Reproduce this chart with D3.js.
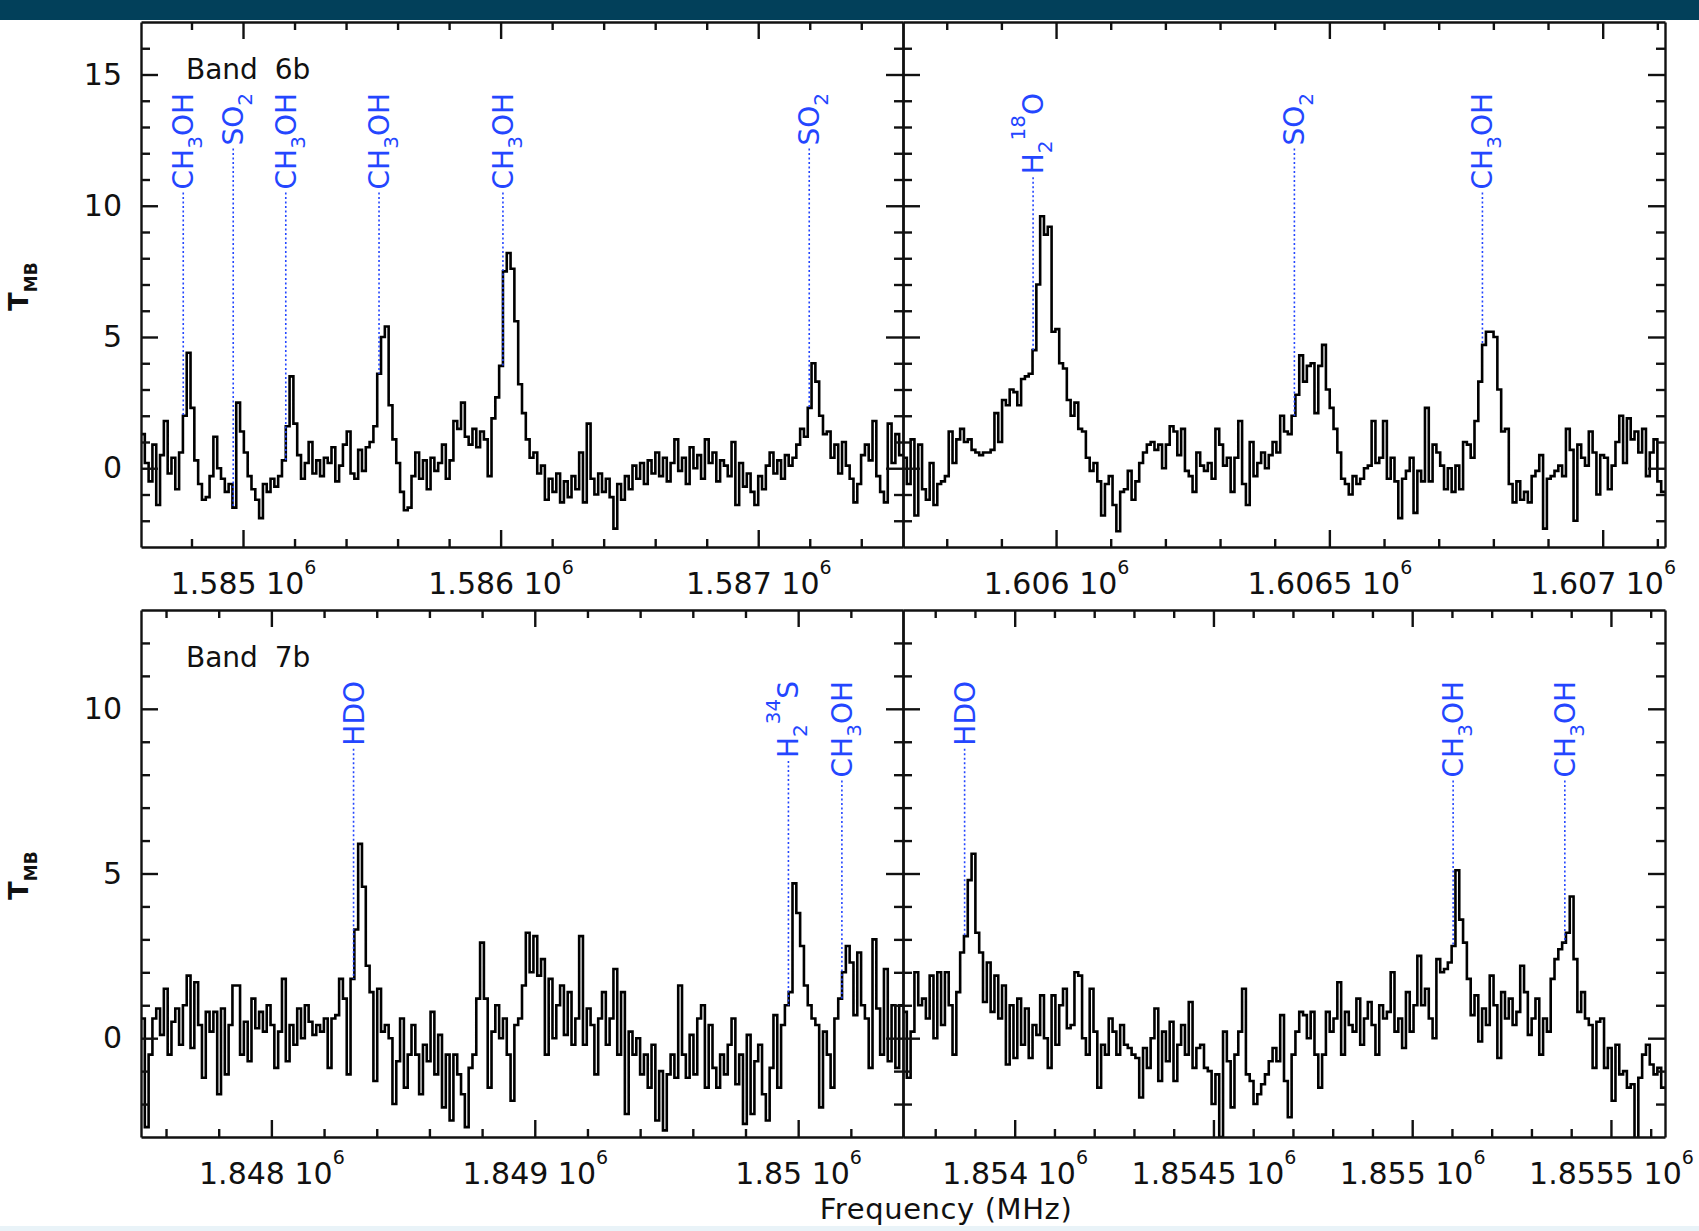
<!DOCTYPE html>
<html>
<head>
<meta charset="utf-8">
<script src="https://d3js.org/d3.v7.min.js"></script>
<style>
body { margin: 0; background: #fff; }
svg text { font-family: "DejaVu Sans", sans-serif; fill: #111; }
.axis path, .axis line { stroke: #111; stroke-width: 2.4; }
.spec { fill: none; stroke: #000; stroke-width: 2.6; stroke-linejoin: miter; }
.lineid { fill: #2446ff; font-size: 28px; }
.idline { stroke: #2446ff; stroke-width: 1.6; stroke-dasharray: 2 2.5; }
</style>
</head>
<body>
<svg id="chart" width="1699" height="1231"></svg>
<script>
// spectra, 200 channels per window (T_MB in K, freq in MHz)
var b6LowRange = [1584604, 1587562];
var b6LowT = [1.3, 0.2, -0.5, 0.9, -1.4, 0.5, 1.8, -0.2, 0.4, -0.8, 0.6,
  2.0, 4.4, 2.3, 0.3, -0.6, -1.2, -1.1, -0.3, 1.2, 0.0,
  -0.4, -0.9, -0.6, -1.5, 2.5, 1.4, 0.6, -0.3, -0.8, -1.2,
  -1.9, -0.6, -0.9, -0.4, -0.7, -0.3, 0.3, 1.6, 3.5, 1.7,
  0.5, -0.4, 0.2, 1.0, -0.2, 0.3, -0.3, 0.4, 0.2, 0.8,
  -0.5, 0.1, 0.9, 1.4, -0.2, -0.4, 0.7, -0.1, 0.8, 1.0,
  1.6, 3.6, 5.0, 5.4, 2.4, 1.1, 0.2, -0.9, -1.6, -1.5,
  -0.3, 0.6, -0.4, 0.3, -0.8, 0.4, -0.1, 0.2, 0.9, -0.4,
  0.3, 1.8, 1.5, 2.5, 1.2, 0.9, 1.5, 0.8, 1.4, 1.1,
  -0.3, 1.9, 2.7, 3.9, 7.5, 8.2, 7.6, 5.6, 3.2, 2.1,
  1.1, 0.4, 0.6, -0.2, 0.1, -1.2, -0.4, -0.9, -0.2, -1.3,
  -0.5, -1.1, -0.3, -0.8, 0.6, -1.3, 1.7, -0.4, -1.0, -0.2,
  -0.9, -0.4, -1.1, -2.3, -0.6, -1.2, -0.3, -0.8, 0.1, -0.4,
  0.2, -0.6, 0.3, -0.2, 0.6, -0.3, 0.4, -0.5, 0.2, 1.1,
  -0.1, 0.4, -0.6, 0.8, 0.0, 0.5, -0.4, 1.1, 0.2, 0.6,
  -0.5, 0.3, 0.1, -0.3, 1.0, -1.4, 0.2, -0.7, -0.2, -0.9,
  -1.4, -0.3, -0.8, 0.1, 0.6, -0.2, 0.3, -0.4, 0.5, 0.1,
  0.4, 0.9, 1.5, 1.2, 2.3, 4.0, 3.3, 2.0, 1.3, 1.4,
  0.4, 0.9, -0.2, 1.0, 0.1, -0.4, -1.3, -0.6, 0.5, 0.9,
  0.3, 1.8, -0.3, -0.9, -1.3, 1.7, 0.2, 1.3, 0.5];
var b6LowIds = [1584768, 1584962, 1585166, 1585528, 1586009, 1587198];
var b6LowNames = ["CH3OH", "SO2", "CH3OH", "CH3OH", "CH3OH", "SO2"];

var b6HighRange = [1605720, 1607114];
var b6HighT = [0.4, -0.6, 1.1, -1.8, 0.9, -0.8, -1.2, 0.2, -1.4, -0.6, -0.5,
  -0.3, 1.4, 0.2, 1.1, 1.5, 1.0, 1.1, 0.7, 0.6, 0.5,
  0.6, 0.6, 0.7, 2.1, 1.0, 2.6, 2.4, 3.0, 2.9, 2.4,
  3.4, 3.5, 3.6, 4.5, 7.0, 9.6, 8.9, 9.2, 5.2, 5.3,
  4.0, 3.8, 2.6, 2.0, 2.5, 1.5, 1.4, 0.4, -0.1, 0.2,
  -0.5, -1.8, -0.6, -0.3, -1.4, -2.4, -0.9, -0.8, -0.1, -1.2,
  -0.5, 0.2, 0.6, 0.9, 1.0, 0.7, 0.9, 0.0, 0.9, 1.6,
  1.4, 0.5, 1.5, -0.1, -0.3, -0.9, 0.6, 0.1, -0.1, 0.2,
  -0.4, 1.5, 0.9, 0.1, 0.4, -0.9, 0.4, 1.8, -0.6, -1.4,
  1.0, -0.3, 0.2, 0.6, 0.0, 0.5, 1.0, 0.6, 2.0, 1.4,
  1.3, 2.0, 2.8, 4.3, 3.3, 3.9, 4.0, 2.1, 3.9, 4.7,
  3.0, 2.3, 1.5, 0.6, -0.4, -0.6, -1.0, -0.3, -0.6, -0.4,
  0.0, 0.1, 1.8, 0.2, 0.4, 1.8, -0.4, 0.4, -0.5, -1.9,
  -0.4, -0.1, 0.4, -1.7, -0.1, -0.5, 2.3, -0.5, 0.9, 0.6,
  0.1, -0.8, 0.0, -0.9, 0.1, -0.8, 1.0, 0.9, 0.4, 1.8,
  3.3, 4.7, 5.2, 5.2, 5.0, 3.0, 1.4, 1.5, -0.6, -1.3,
  -0.5, -1.2, -0.9, -1.3, -0.3, -0.1, 0.5, -2.3, -0.4, -0.3,
  -0.1, 0.1, -0.3, 1.5, 0.7, -2.0, 0.9, 0.4, 0.1, 1.4,
  0.6, -1.0, 0.5, 0.4, -0.8, 0.1, 1.0, 2.0, 0.2, 1.9,
  1.1, 1.4, 0.6, 1.5, -0.3, 0.6, 1.1, -0.5, -0.9];
var b6HighIds = [1605958, 1606436, 1606780];
var b6HighNames = ["H2-18O", "SO2", "CH3OH"];

var b7LowRange = [1847505, 1850398];
var b7LowT = [0.6, -2.7, -0.5, 0.6, 0.9, 0.1, 1.5, -0.5, 0.5, 0.9, -0.2,
  1.0, 1.9, -0.3, 1.7, 0.4, -1.2, 0.8, 0.2, 0.8, -1.7,
  0.9, -1.1, 0.4, 1.6, 1.6, -0.5, 0.5, -0.7, 1.2, 0.3,
  0.8, 0.2, 1.0, 0.4, -0.9, 0.2, 1.8, -0.7, 0.4, -0.2,
  0.9, 0.0, 1.0, 0.5, 0.1, 0.4, 0.2, 0.6, -0.9, 0.6,
  0.7, 1.8, 1.2, -1.1, 1.8, 3.3, 5.9, 4.6, 2.2, 1.4,
  -1.3, 1.5, 0.2, 0.4, 0.0, -2.0, -0.7, 0.6, -1.5, -0.5,
  0.4, -0.5, -1.7, -0.2, -0.7, 0.8, -1.1, 0.1, -2.1, -0.5,
  -2.5, -0.5, -1.1, -1.7, -2.7, -0.9, -0.5, 1.2, 2.9, 1.2,
  -1.5, 0.2, 1.0, 0.0, 0.6, -0.5, -1.9, 0.4, 0.6, 1.6,
  3.2, 2.0, 3.1, 1.9, 2.4, -0.5, 1.8, 0.0, 1.0, 1.6,
  0.1, 1.4, -0.2, 0.6, 3.1, -0.2, 0.9, 0.4, -1.1, 0.6,
  1.4, -0.2, 0.6, 2.1, -0.5, 1.4, -2.3, 0.2, -0.5, 0.0,
  -1.1, -0.5, -1.5, -0.2, -2.5, -1.0, -2.8, -1.1, -0.5, -1.2,
  1.6, -0.5, -1.2, 0.1, -1.1, 0.6, 1.0, -1.5, 0.4, -0.9,
  -1.5, -0.5, -1.1, -0.2, 0.6, -1.4, -0.5, -2.6, 0.1, -2.3,
  -0.7, -0.2, -1.7, -2.5, -0.9, 0.7, -1.5, 0.4, 1.0, 1.4,
  4.7, 3.8, 2.8, 1.6, 1.0, 0.6, 0.4, -2.1, 0.2, -0.5,
  -1.5, 0.6, 1.2, 2.0, 2.8, 2.3, 0.7, 2.6, 1.0, 0.6,
  -0.9, 3.0, 0.9, -0.5, 2.1, -0.7, 1.0, -0.9, 1.0];
var b7LowIds = [1848312, 1849963, 1850166];
var b7LowNames = ["HDO", "H2-34S", "CH3OH"];

var b7HighRange = [1853719, 1855636];
var b7HighT = [0.8, -1.2, 0.2, 2.0, 1.0, 1.2, 0.6, 1.9, 0.0, 2.0, 0.4,
  2.0, 1.0, -0.5, 1.4, 2.6, 3.1, 4.8, 5.6, 3.2, 2.6,
  1.1, 2.3, 0.8, 1.9, 0.6, 1.6, -0.8, 1.0, -0.6, 1.2,
  -0.2, 0.9, -0.6, 0.4, 0.1, 1.3, 0.0, -0.9, 1.3, -0.2,
  1.0, 1.5, 0.3, 0.4, 2.0, 1.9, 0.0, -0.5, 1.5, 0.2,
  -1.5, -0.2, -0.5, 0.6, 0.2, -0.5, 0.4, -0.2, -0.3, -0.5,
  -0.6, -1.8, -0.3, -0.9, 0.0, 0.9, -1.3, 0.2, -0.7, 0.5,
  -1.3, -0.2, 0.4, -0.5, 1.1, -0.9, -0.3, -0.2, -0.9, -1.0,
  -2.0, -1.1, -3.0, 0.2, -0.7, -2.1, -0.5, 0.2, 1.5, -1.1,
  -1.3, -2.0, -1.7, -1.4, -1.1, -0.7, -0.3, -0.7, 0.7, -1.3,
  -2.4, -0.5, 0.2, 0.8, 0.7, 0.0, 0.8, -0.5, -1.5, -0.5,
  0.8, 0.2, 0.6, 1.7, -0.5, 0.8, 0.4, 0.2, 1.2, -0.2,
  0.6, 1.1, 0.4, -0.5, 1.0, 0.6, 0.8, 2.0, 0.2, 0.6,
  -0.3, 1.4, 0.2, 1.0, 2.5, 1.0, 1.5, 0.6, 0.0, 2.4,
  2.0, 2.1, 2.3, 2.8, 5.1, 3.6, 2.9, 1.8, 0.7, 1.3,
  -0.1, 0.9, 0.4, 1.9, 1.0, -0.6, 1.4, 0.6, 1.2, 0.4,
  0.8, 2.2, 1.4, 0.1, 0.6, 1.2, -0.5, 0.6, 0.2, 1.8,
  2.4, 2.7, 2.9, 3.2, 4.3, 2.4, 0.8, 1.4, 0.6, 0.4,
  -0.9, 0.5, 0.6, -0.9, -0.3, -1.9, -0.2, -1.1, -1.0, -1.5,
  -1.4, -3.1, -1.2, -0.5, -0.2, -0.8, -1.1, -0.9, -1.5];
var b7HighIds = [1853874, 1855103, 1855384];
var b7HighNames = ["HDO", "CH3OH", "CH3OH"];

var yTicksTop = [0, 5, 10, 15];
var yTicksBottom = [0, 5, 10];

// how each species name is typeset (sub/superscripts)
var formulas = {
  "CH3OH": [["CH"], ["3", "sub"], ["OH"]],
  "SO2": [["SO"], ["2", "sub"]],
  "H2-18O": [["H"], ["2", "sub"], ["18", "sup"], ["O"]],
  "H2-34S": [["H"], ["2", "sub"], ["34", "sup"], ["S"]],
  "HDO": [["HDO"]]
};

var svg = d3.select("#chart");

// slide header strip and faint footer
svg.append("rect").attr("x", 0).attr("y", 0).attr("width", 1699).attr("height", 20).attr("fill", "#02405a");
svg.append("rect").attr("x", 0).attr("y", 1226).attr("width", 1699).attr("height", 5).attr("fill", "#e9f3f8");

var panels = [
  {left: 141, right: 903, top: 22, bottom: 547, fr: b6LowRange, t: b6LowT, yDom: [-3, 17], yMaj: yTicksTop,
   major: 1000, minor: 200, ids: b6LowIds, names: b6LowNames, yLab: true, band: "Band 6b"},
  {left: 903, right: 1665, top: 22, bottom: 547, fr: b6HighRange, t: b6HighT, yDom: [-3, 17], yMaj: yTicksTop,
   major: 500, minor: 100, ids: b6HighIds, names: b6HighNames, yLab: false},
  {left: 141, right: 903, top: 610, bottom: 1137, fr: b7LowRange, t: b7LowT, yDom: [-3, 13], yMaj: yTicksBottom,
   major: 1000, minor: 200, ids: b7LowIds, names: b7LowNames, yLab: true, band: "Band 7b"},
  {left: 903, right: 1665, top: 610, bottom: 1137, fr: b7HighRange, t: b7HighT, yDom: [-3, 13], yMaj: yTicksBottom,
   major: 500, minor: 100, ids: b7HighIds, names: b7HighNames, yLab: false}
];

var fmt = d3.format(".5~g");

panels.forEach(function(p, k) {
  var x = d3.scaleLinear().domain(p.fr).range([p.left, p.right]);
  var y = d3.scaleLinear().domain(p.yDom).range([p.bottom, p.top]);
  var g = svg.append("g");

  // histogram: channel i covers [f0 + i*df, f0 + (i+1)*df]
  var df = (p.fr[1] - p.fr[0]) / p.t.length;
  var pts = p.t.map(function(v, i) { return [p.fr[0] + i * df, v]; });
  pts.push([p.fr[1], p.t[p.t.length - 1]]);

  g.append("clipPath").attr("id", "clip" + k)
    .append("rect").attr("x", p.left).attr("y", p.top)
    .attr("width", p.right - p.left).attr("height", p.bottom - p.top);

  var line = d3.line().x(function(d) { return x(d[0]); }).y(function(d) { return y(d[1]); })
    .curve(d3.curveStepAfter);
  g.append("path").datum(pts).attr("class", "spec").attr("clip-path", "url(#clip" + k + ")").attr("d", line);

  // ticks: all inward, on all four sides
  var xMaj = d3.range(Math.ceil(p.fr[0] / p.major) * p.major, p.fr[1], p.major);
  var xMin = d3.range(Math.ceil(p.fr[0] / p.minor) * p.minor, p.fr[1], p.minor)
    .filter(function(d) { return d % p.major != 0; });
  var yMin = d3.range(p.yDom[0] + 1, p.yDom[1]).filter(function(d) { return d % 5 != 0; });
  var yMajIn = d3.range(p.yDom[0] + 1, p.yDom[1]).filter(function(d) { return d % 5 == 0; });

  function put(axis, tx, ty, keepDomain) {
    var a = g.append("g").attr("class", "axis").attr("transform", "translate(" + tx + "," + ty + ")").call(axis);
    if (!keepDomain) a.select(".domain").remove();
    return a;
  }
  put(d3.axisTop(x).tickValues(xMaj).tickSize(17).tickSizeOuter(0).tickFormat(""), 0, p.bottom, true);
  put(d3.axisTop(x).tickValues(xMin).tickSize(8).tickFormat(""), 0, p.bottom);
  put(d3.axisBottom(x).tickValues(xMaj).tickSize(17).tickSizeOuter(0).tickFormat(""), 0, p.top, true);
  put(d3.axisBottom(x).tickValues(xMin).tickSize(8).tickFormat(""), 0, p.top);
  put(d3.axisRight(y).tickValues(yMajIn).tickSize(17).tickSizeOuter(0).tickFormat(""), p.left, 0, true);
  put(d3.axisRight(y).tickValues(yMin).tickSize(9).tickFormat(""), p.left, 0);
  put(d3.axisLeft(y).tickValues(yMajIn).tickSize(17).tickSizeOuter(0).tickFormat(""), p.right, 0, true);
  put(d3.axisLeft(y).tickValues(yMin).tickSize(9).tickFormat(""), p.right, 0);

  // x labels like "1.585 10^6"
  var xl = g.append("g").attr("transform", "translate(0," + p.bottom + ")")
    .call(d3.axisBottom(x).tickValues(xMaj).tickSize(0));
  xl.attr("font-size", null).attr("font-family", null);
  xl.select(".domain").remove();
  xl.selectAll(".tick text").attr("y", 47).attr("dy", null).style("font-size", "30px")
    .each(function(d) {
      var t = d3.select(this).text(fmt(d / 1e6) + " 10");
      t.append("tspan").attr("dy", -20).style("font-size", "19px").text("6");
    });

  if (p.yLab) {
    var yl = g.append("g").attr("transform", "translate(" + p.left + ",0)")
      .call(d3.axisLeft(y).tickValues(p.yMaj).tickSize(0).tickPadding(19));
    yl.attr("font-size", null).attr("font-family", null);
    yl.select(".domain").remove();
    yl.selectAll(".tick text").style("font-size", "30px");

    g.append("text").attr("x", 186).attr("y", p.top + 57).style("font-size", "28px")
      .style("word-spacing", "8px").text(p.band);

    var ty = g.append("text").attr("text-anchor", "middle").style("font-weight", "bold")
      .attr("transform", "translate(28," + ((p.top + p.bottom) / 2 + 2) + ") rotate(-90)");
    ty.append("tspan").style("font-size", "27px").text("T");
    ty.append("tspan").attr("dy", 9).style("font-size", "17px").text("MB");
  }

  // line identifications: rotated labels hanging from a common top, dotted drop to the spectrum
  p.ids.forEach(function(f, j) {
    var xx = x(f);
    var topY = p.top + 71;
    var t = g.append("text").attr("class", "lineid").attr("text-anchor", "end")
      .attr("transform", "translate(" + (xx + 10) + "," + topY + ") rotate(-90)");
    var shift = 0;
    formulas[p.names[j]].forEach(function(part) {
      var want = part[1] == "sub" ? 9 : part[1] == "sup" ? -18 : 0;
      var s = t.append("tspan").attr("dy", want - shift).text(part[0]);
      if (part[1]) s.style("font-size", "20px");
      shift = want;
    });
    var len = t.node().getComputedTextLength();
    var idx = Math.min(p.t.length - 1, Math.floor((f - p.fr[0]) / df));
    g.append("line").attr("class", "idline")
      .attr("x1", xx).attr("x2", xx)
      .attr("y1", topY + len + 3).attr("y2", y(p.t[idx]));
  });
});

svg.append("text").attr("x", 946).attr("y", 1219).attr("text-anchor", "middle")
  .style("font-size", "29px").style("letter-spacing", "0.6px").text("Frequency (MHz)");
</script>
</body>
</html>
